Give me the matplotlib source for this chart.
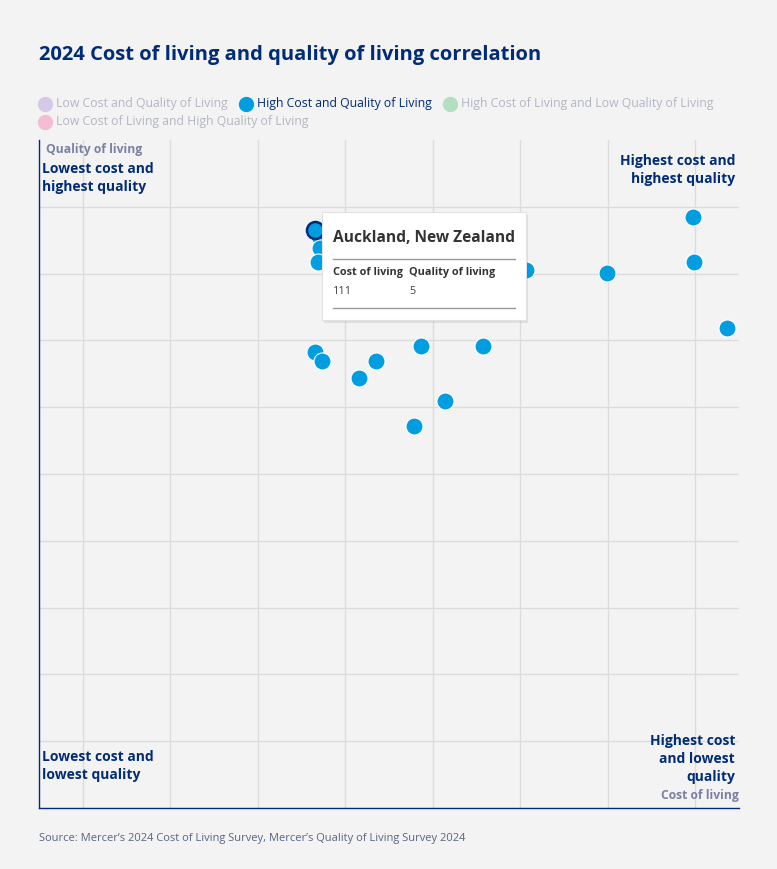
import matplotlib.pyplot as plt
from matplotlib.lines import Line2D
from matplotlib.patches import Rectangle

W, H = 777, 869

# scores (x: cost score, y: quality score, 0-80 / 0-100)
cost_score = [31.5, 32.0, 32.1, 31.9, 46.0, 55.6, 64.9, 74.7, 74.8, 78.6,
              31.5, 32.3, 38.5, 36.5, 43.6, 50.7, 46.4, 42.8]
quality_score = [86.5, 85.6, 83.9, 81.8, 87.8, 80.5, 80.1, 88.4, 81.7, 71.9,
                 68.3, 66.9, 66.9, 64.4, 69.2, 69.2, 60.9, 57.2]
highlight = 0  # Auckland

legend_labels = ['Low Cost and Quality of Living', 'High Cost and Quality of Living',
                 'High Cost of Living and Low Quality of Living',
                 'Low Cost of Living and High Quality of Living']
legend_colors = ['#d6c8e8', '#009de0', '#b3e0c3', '#f5bcd5']
legend_active = [False, True, False, False]

tip_city = 'Auckland, New Zealand'
tip_cost = '111'
tip_quality = '5'

navy = '#002c77'
blue = '#009de0'
bg = '#f3f3f3'

plt.rcParams['font.family'] = ['Open Sans', 'Noto Sans', 'DejaVu Sans']


def fx(px):
    return px / W


def fy(py):
    return 1 - py / H


fig = plt.figure(figsize=(W / 100, H / 100), dpi=100, facecolor=bg)
ax = fig.add_axes([fx(39.3), fy(808), (739 - 39.3) / W, 668 / H])
ax.set_facecolor(bg)
ax.set_xlim(0, 80)
ax.set_ylim(0, 100)
ax.set_xticks([5, 15, 25, 35, 45, 55, 65, 75])
ax.set_yticks([10, 20, 30, 40, 50, 60, 70, 80, 90])
ax.grid(True, color='#dcdcdc', linewidth=1)
ax.set_axisbelow(True)
ax.tick_params(length=0, labelbottom=False, labelleft=False)
for s in ['top', 'right']:
    ax.spines[s].set_visible(False)
for s in ['left', 'bottom']:
    ax.spines[s].set_color(navy)
    ax.spines[s].set_linewidth(1)

others = [i for i in range(len(cost_score)) if i != highlight]
ax.scatter([cost_score[i] for i in others], [quality_score[i] for i in others],
           s=150, color=blue, edgecolor='white', linewidth=0.8, zorder=3)
ax.scatter([cost_score[highlight]], [quality_score[highlight]], s=150, color=blue,
           edgecolor=navy, linewidth=1.8, zorder=4)

# title
fig.text(fx(39), fy(55), '2024 Cost of living and quality of living correlation',
         fontsize=14.5, fontweight='bold', color=navy, va='center')

# legend
leg_pos = [(45, 104), (246, 104), (450, 104), (45, 122)]
for (px, py), lab, col, act in zip(leg_pos, legend_labels, legend_colors, legend_active):
    fig.add_artist(Line2D([fx(px)], [fy(py)], marker='o', markersize=10, color=col,
                          linestyle='none', transform=fig.transFigure))
    fig.text(fx(px + 11), fy(py), lab, fontsize=8.8, va='center',
             color=navy if act else '#b4b6c2')

# corner labels
corner = dict(fontsize=10, fontweight='bold', color=navy, linespacing=1.35)
fig.text(fx(42), fy(162), 'Lowest cost and\nhighest quality', va='top', ha='left', **corner)
fig.text(fx(735), fy(154), 'Highest cost and\nhighest quality', va='top', ha='right',
         multialignment='right', **corner)
fig.text(fx(42), fy(750), 'Lowest cost and\nlowest quality', va='top', ha='left', **corner)
fig.text(fx(735), fy(734), 'Highest cost\nand lowest\nquality', va='top', ha='right',
         multialignment='right', **corner)
fig.text(fx(46), fy(149), 'Quality of living', fontsize=8.7, fontweight='bold',
         color='#7a80a3', va='center')
fig.text(fx(739), fy(796), 'Cost of living', fontsize=8.7, fontweight='bold',
         color='#7a80a3', va='center', ha='right')

fig.text(fx(39), fy(838),
         'Source: Mercer\u2019s 2024 Cost of Living Survey, Mercer\u2019s Quality of Living Survey 2024',
         fontsize=8.0, color='#5b6386', va='center')

# tooltip
fig.add_artist(Rectangle((fx(324), fy(323)), (526 - 322) / W, (320 - 212) / H,
                         transform=fig.transFigure, facecolor='#000000', alpha=0.08,
                         edgecolor='none', zorder=9))
fig.add_artist(Rectangle((fx(322), fy(320)), (526 - 322) / W, (320 - 212) / H,
                         transform=fig.transFigure, facecolor='white',
                         edgecolor='#e2e2e2', linewidth=0.8, zorder=10))
fig.text(fx(333), fy(238), tip_city, fontsize=11.2, fontweight='bold', color='#333333',
         va='center', zorder=11)
fig.add_artist(Line2D([fx(333), fx(515)], [fy(259), fy(259)], color='#999999',
                      linewidth=1, transform=fig.transFigure, zorder=11))
fig.text(fx(333), fy(273), 'Cost of living', fontsize=7.8, fontweight='bold',
         color='#333333', va='center', zorder=11)
fig.text(fx(409), fy(273), 'Quality of living', fontsize=7.8, fontweight='bold',
         color='#333333', va='center', zorder=11)
fig.text(fx(333), fy(292), tip_cost, fontsize=7.8, color='#444444', va='center', zorder=11)
fig.text(fx(409), fy(292), tip_quality, fontsize=7.8, color='#444444', va='center', zorder=11)
fig.add_artist(Line2D([fx(333), fx(515)], [fy(308), fy(308)], color='#999999',
                      linewidth=1, transform=fig.transFigure, zorder=11))

fig.savefig('out.png', dpi=100, facecolor=bg)
